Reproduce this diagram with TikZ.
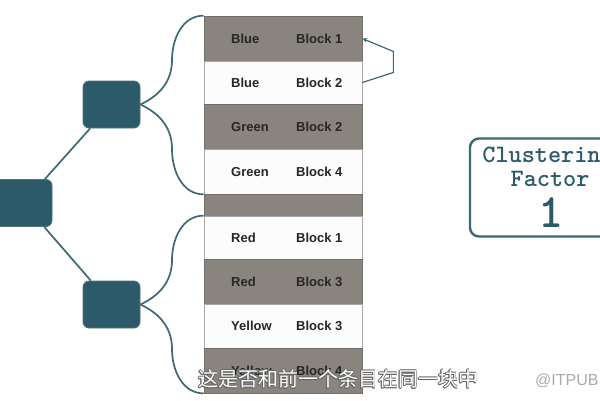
\documentclass[tikz,border=0pt]{standalone}
\usepackage{fontspec}
\setmainfont{Liberation Sans}
\newfontfamily\cjk{Noto Sans CJK SC}
\newfontfamily\cfmono{lmmonolt10-bold.otf}
\usetikzlibrary{arrows.meta}
\definecolor{boxteal}{HTML}{2C5A68}
\definecolor{lineteal}{HTML}{3F6875}
\definecolor{rowgray}{HTML}{8A847E}
\definecolor{rowwhite}{HTML}{FCFCFC}
\definecolor{rowedge}{HTML}{726D68}
\definecolor{txtdark}{HTML}{262626}
\tikzset{
  nbox/.style={fill=boxteal, draw=boxteal!85!white, line width=0.8pt, rounded corners=6pt, minimum width=57pt, minimum height=47pt, inner sep=0pt},
  conn/.style={draw=lineteal, line width=1.7pt},
  grayrow/.style={fill=rowgray, draw=rowedge, line width=0.7pt, minimum width=158pt, inner sep=0pt},
  whiterow/.style={fill=rowwhite, draw=rowedge!60!white, line width=0.7pt, minimum width=158pt, inner sep=0pt},
  lbl/.style={anchor=base west, inner sep=0pt, text=txtdark, font=\bfseries\fontsize{13}{13}\selectfont},
  cftext/.style={anchor=base, inner sep=0pt, text=boxteal},
  subshadow/.style={inner sep=0pt, text=black!60, font=\cjk\fontsize{20}{20}\selectfont},
  subtext/.style={inner sep=0pt, text=white, font=\cjk\fontsize{20}{20}\selectfont}
}
\newcommand\mkrow[6]{%
  \node[#4, minimum height={#3-#2}] (#1) at (283,{(#2+#3)/2}) {};
  \node[lbl] (#1a) at (231,{(#2+#3)/2+4.5}) {#5};
  \node[lbl] (#1b) at (296,{(#2+#3)/2+4.5}) {#6};
}
\begin{document}
\begin{tikzpicture}[x=1pt,y=-1pt]
\clip (0,0) rectangle (600,400);
\fill[white] (0,0) rectangle (600,400);

% table rows
\mkrow{r1}{16}{61}{grayrow}{Blue}{Block 1}
\mkrow{r2}{61}{104}{whiterow}{Blue}{Block 2}
\mkrow{r3}{104}{149}{grayrow}{Green}{Block 2}
\mkrow{r4}{149}{194}{whiterow}{Green}{Block 4}
\node[grayrow, minimum height=22] (gap) at (283,205) {};
\mkrow{r5}{216}{259}{whiterow}{Red}{Block 1}
\mkrow{r6}{259}{304}{grayrow}{Red}{Block 3}
\mkrow{r7}{304}{348}{whiterow}{Yellow}{Block 3}
\mkrow{r8}{348}{393}{grayrow}{Yellow}{Block 4}

% tree nodes
\node[nbox] (l0) at (23.5,203) {};
\node[nbox] (m1) at (111.5,104.5) {};
\node[nbox] (m2) at (111.5,304.5) {};

\draw[conn] (l0) -- (m1);
\draw[conn] (l0) -- (m2);

\coordinate (b1) at (172,60);
\coordinate (b2) at (172,149);
\coordinate (b3) at (172,260);
\coordinate (b4) at (172,349);
\draw[conn] (m1.east) to[out=25,in=-90] (b1) to[out=90,in=180] (r1.north west);
\draw[conn] (m1.east) to[out=-25,in=90] (b2) to[out=-90,in=180] (r4.south west);
\draw[conn] (m2.east) to[out=25,in=-90] (b3) to[out=90,in=180] (r5.north west);
\draw[conn] (m2.east) to[out=-25,in=90] (b4) to[out=-90,in=180] (r8.south west);

% self arrow
\draw[draw=lineteal, line width=1.2pt, -{Stealth[length=5pt,width=4.5pt]}]
  (r2.east) -- ++(31,-10) -- ++(0,-21) -- (r1.east);

% clustering factor box
\node[draw=lineteal, line width=2.4pt, rounded corners=9pt, minimum width=162pt, minimum height=98pt, inner sep=0pt] (cf) at (551,187.5) {};
\node[cftext, font=\cfmono\fontsize{25}{25}\selectfont] (cf1) at (548,162) {Clustering};
\node[cftext, font=\cfmono\fontsize{25}{25}\selectfont] (cf2) at (550,186) {Factor};
\node[cftext, font=\cfmono\fontsize{48}{48}\selectfont] (cf3) at (551,227) {1};

% subtitle
\foreach \dx/\dy [count=\i] in {0.7/0,-0.7/0,0/0.7,0/-0.7,0.5/0.5,-0.5/0.5,0.5/-0.5,-0.5/-0.5}{
  \node[subshadow] (subs\i) at ({338+\dx},{379+\dy}) {这是否和前一个条目在同一块中};
}
\node[subtext] (sub) at (338,379) {这是否和前一个条目在同一块中};
\node[anchor=west, inner sep=0pt, text=black!33, font=\fontsize{16}{16}\selectfont] (wm) at (535,381) {@ITPUB};
\end{tikzpicture}
\end{document}
